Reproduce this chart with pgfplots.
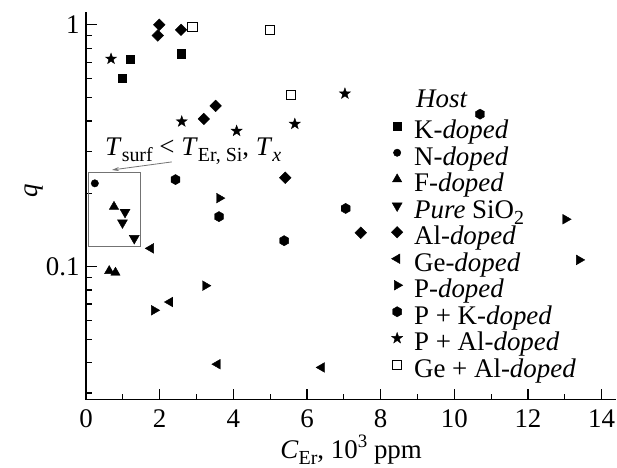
\documentclass[border=0pt]{standalone}
\usepackage{fontspec}
\setmainfont{Liberation Serif}
\usepackage{pgfplots}
\pgfplotsset{compat=1.18}
\usetikzlibrary{arrows.meta}

\pgfdeclareplotmark{hexagon*}{%
  \pgfpathmoveto{\pgfqpoint{0pt}{\pgfplotmarksize}}%
  \pgfpathlineto{\pgfqpoint{0.866\pgfplotmarksize}{0.5\pgfplotmarksize}}%
  \pgfpathlineto{\pgfqpoint{0.866\pgfplotmarksize}{-0.5\pgfplotmarksize}}%
  \pgfpathlineto{\pgfqpoint{0pt}{-\pgfplotmarksize}}%
  \pgfpathlineto{\pgfqpoint{-0.866\pgfplotmarksize}{-0.5\pgfplotmarksize}}%
  \pgfpathlineto{\pgfqpoint{-0.866\pgfplotmarksize}{0.5\pgfplotmarksize}}%
  \pgfpathclose\pgfusepathqfillstroke}
\pgfdeclareplotmark{star5*}{%
  \pgfpathmoveto{\pgfqpoint{0pt}{\pgfplotmarksize}}%
  \pgfpathlineto{\pgfqpoint{-0.235\pgfplotmarksize}{0.324\pgfplotmarksize}}%
  \pgfpathlineto{\pgfqpoint{-0.951\pgfplotmarksize}{0.309\pgfplotmarksize}}%
  \pgfpathlineto{\pgfqpoint{-0.380\pgfplotmarksize}{-0.124\pgfplotmarksize}}%
  \pgfpathlineto{\pgfqpoint{-0.588\pgfplotmarksize}{-0.809\pgfplotmarksize}}%
  \pgfpathlineto{\pgfqpoint{0pt}{-0.4\pgfplotmarksize}}%
  \pgfpathlineto{\pgfqpoint{0.588\pgfplotmarksize}{-0.809\pgfplotmarksize}}%
  \pgfpathlineto{\pgfqpoint{0.380\pgfplotmarksize}{-0.124\pgfplotmarksize}}%
  \pgfpathlineto{\pgfqpoint{0.951\pgfplotmarksize}{0.309\pgfplotmarksize}}%
  \pgfpathlineto{\pgfqpoint{0.235\pgfplotmarksize}{0.324\pgfplotmarksize}}%
  \pgfpathclose\pgfusepathqfillstroke}

\newcommand{\lsub}[1]{\raisebox{-0.22em}{\fontsize{20}{20}\selectfont #1}}
\newcommand{\lsup}[1]{\raisebox{0.42em}{\fontsize{19}{19}\selectfont #1}}

\begin{document}
\begin{tikzpicture}[font=\fontsize{27}{30}\selectfont]
\begin{axis}[
  at={(0,0)}, anchor=south west,
  scale only axis, width=530.35bp, height=387bp,
  xmin=0, xmax=14.4, ymode=log, ymin=0.02822, ymax=1.124,
  axis lines=left, axis line style={line width=1.8bp, -},
  xtick={0,2,...,14}, xticklabels={0,2,4,6,8,10,12,14},
  minor xtick={1,3,...,13},
  ytick={0.1,1}, yticklabels={0.1,1},
  minor ytick={0.03,0.04,0.05,0.06,0.07,0.08,0.09,0.2,0.3,0.4,0.5,0.6,0.7,0.8,0.9},
  tick align=inside, major tick length=11bp, minor tick length=6bp,
  tick style={line width=1.2bp, black},
  xticklabel style={yshift=-7bp},
  yticklabel style={xshift=-3bp},
  xlabel={\textit{C}\lsub{Er}, 10\lsup{3} ppm},
  ylabel={\textit{q}},
  xlabel style={at={(axis description cs:0.5,-0.1537)}, anchor=base},
  ylabel style={at={(axis description cs:-0.098,0.54)}, anchor=center},
  clip=false,
  legend style={at={(axis description cs:0.575,0.037)}, anchor=south west,
    draw=none, fill=none, inner sep=0pt, row sep=0pt, column sep=11bp,
    nodes={inner sep=0pt, text height=19bp, text depth=7.5bp}},
  legend cell align=left,
  legend image code/.code={\path[draw=none,fill=none] (-6bp,-6bp) rectangle (6bp,6bp);
    \draw[#1] plot coordinates {(0bp,7bp)};},
  every axis plot/.append style={only marks, black, line width=0.4bp},
]
\addplot[mark=square*, mark size=4.2bp] coordinates {(0.99,0.602) (1.20,0.721) (2.59,0.759)};
\addlegendentry{K-\textit{doped}}
\addplot[mark=*, mark size=3.7bp] coordinates {(0.24,0.221)};
\addlegendentry{N-\textit{doped}}
\addplot[mark=triangle*, mark size=5.4bp] coordinates {(0.76,0.177) (0.63,0.096) (0.80,0.0945)};
\addlegendentry{F-\textit{doped}}
\addplot[mark=triangle*, mark size=5.8bp, mark options={rotate=180}] coordinates {(1.06,0.168) (0.99,0.152) (1.31,0.131)};
\addlegendentry{\textit{Pure} SiO\lsub{2}}
\addplot[mark=square*, mark size=4.1bp, mark options={rotate=45}] coordinates {(1.99,1.0) (1.95,0.903) (2.58,0.953) (3.52,0.462) (3.20,0.408) (5.41,0.233) (7.46,0.138)};
\addlegendentry{Al-\textit{doped}}
\addplot[mark=triangle*, mark size=5.6bp, mark options={rotate=90}] coordinates {(1.76,0.119) (2.28,0.0714) (3.57,0.0395) (6.40,0.0383)};
\addlegendentry{Ge-\textit{doped}}
\addplot[mark=triangle*, mark size=5.6bp, mark options={rotate=-90}] coordinates {(3.62,0.192) (3.24,0.0834) (1.85,0.066) (13.02,0.157) (13.39,0.1066)};
\addlegendentry{P-\textit{doped}}
\addplot[mark=hexagon*, mark size=5.1bp] coordinates {(2.43,0.229) (3.61,0.161) (5.38,0.128) (7.05,0.174) (10.70,0.427)};
\addlegendentry{P + K-\textit{doped}}
\addplot[mark=star5*, mark size=5.8bp] coordinates {(0.68,0.723) (2.60,0.398) (4.09,0.364) (5.67,0.389) (7.03,0.519)};
\addlegendentry{P + Al-\textit{doped}}
\addplot[mark=square, mark size=4.6bp, line width=0.8bp] coordinates {(2.89,0.978) (5.0,0.953) (5.57,0.513)};
\addlegendentry{Ge + Al-\textit{doped}}

\node[anchor=base west, inner sep=0pt] at (axis cs:8.96,0.4535) {\textit{Host}};
\draw[black!55, line width=1bp] (axis cs:0.08,0.1206) rectangle (axis cs:1.49,0.246);
\draw[black!55, line width=0.8bp, -{Stealth[length=7bp,width=4bp]}] (axis cs:2.33,0.271) -- (axis cs:0.706,0.251);
\node[anchor=base west, inner sep=0pt] at (axis cs:0.516,0.287) {\textit{T}\lsub{surf} < \textit{T}\lsub{Er, Si}, \textit{T}\lsub{\textit{x}}};
\end{axis}
\pgfresetboundingbox
\path[use as bounding box] (-86bp,-68.5bp) rectangle (531bp,399.5bp);
\end{tikzpicture}
\end{document}
